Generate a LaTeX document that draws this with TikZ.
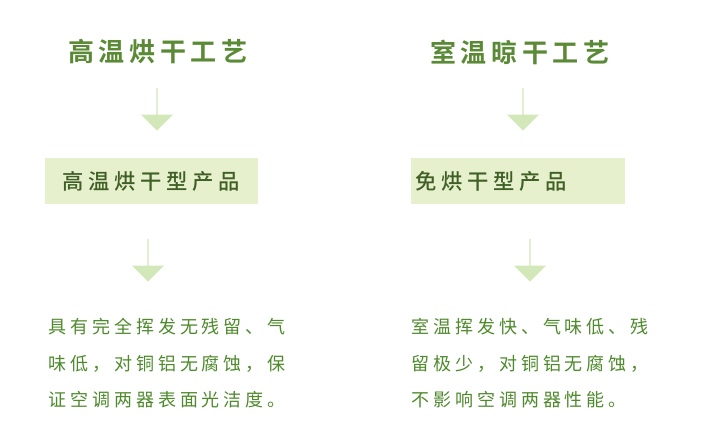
\documentclass[tikz,border=0pt]{standalone}
\usepackage{fontspec}
\setmainfont{Noto Sans CJK SC}
\newfontfamily\cjkbold[LetterSpace=18]{Noto Sans CJK SC Bold}
\newfontfamily\cjkbox[LetterSpace=22]{Noto Sans CJK SC Medium}
\newfontfamily\cjkbody[LetterSpace=22]{Noto Sans CJK SC}
\usetikzlibrary{shapes.arrows}
\definecolor{titlegreen}{HTML}{5A8A35}
\definecolor{boxfill}{HTML}{E6F0CC}
\definecolor{boxtext}{HTML}{3F5F26}
\definecolor{arrowgreen}{HTML}{D3E8B8}
\definecolor{bodygreen}{HTML}{4E8A2C}
\tikzset{
  title/.style={text=titlegreen, font=\cjkbold\fontsize{19.5}{22}\selectfont},
  product/.style={fill=boxfill, text=boxtext, minimum width=160pt, minimum height=34pt,
    font=\cjkbox\fontsize{16}{18}\selectfont},
  downarrow/.style={single arrow, fill=arrowgreen, shape border rotate=270,
    minimum height=32pt, minimum width=24pt, single arrow head extend=6pt, inner sep=0pt},
  body/.style={text=bodygreen, anchor=north west, align=left,
    font=\cjkbody\fontsize{13.5}{27.5}\selectfont, inner sep=0pt}
}
\begin{document}
\begin{tikzpicture}[x=0.75pt,y=-0.75pt]
  \useasboundingbox (0,0) rectangle (704,438);
  % left column
  \node[title] (hot) at (158,52) {高温烘干工艺};
  \node[downarrow] (hotarr) at (157,109) {};
  \node[product] (hotprod) at (151.5,181) {高温烘干型产品};
  \node[downarrow] (hotarr2) at (148,260) {};
  \node[body] (hotdesc) at (48,318) {具有完全挥发无残留、气\\味低，对铜铝无腐蚀，保\\证空调两器表面光洁度。};
  % right column
  \node[title] (room) at (520,52) {室温晾干工艺};
  \node[downarrow] (roomarr) at (523,109) {};
  \node[product] (roomprod) at (518,181) {\hspace*{-40pt}免烘干型产品};
  \node[downarrow] (roomarr2) at (530,260) {};
  \node[body] (roomdesc) at (411,318) {室温挥发快、气味低、残\\留极少，对铜铝无腐蚀，\\不影响空调两器性能。};
\end{tikzpicture}
\end{document}
